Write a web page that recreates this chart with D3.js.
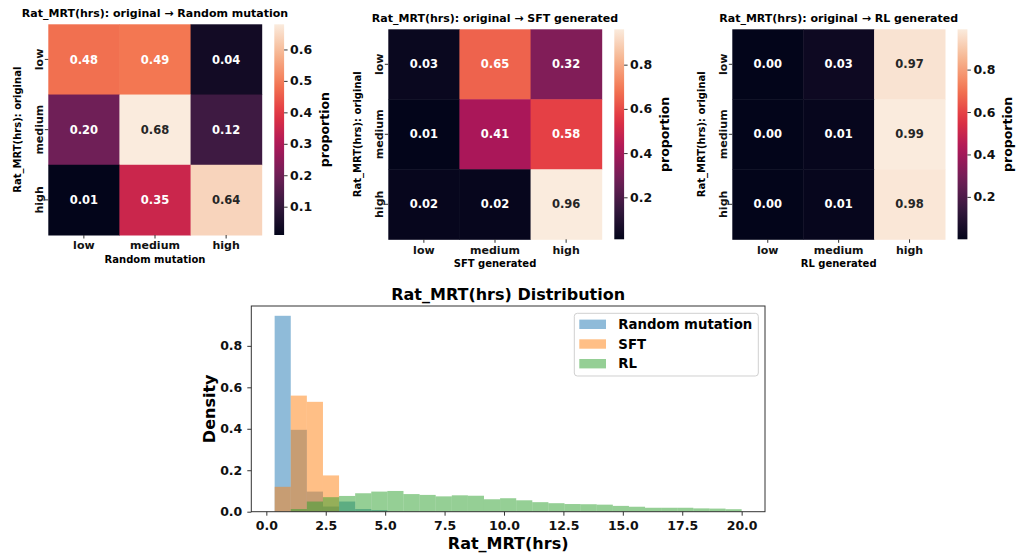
<!DOCTYPE html>
<html>
<head>
<meta charset="utf-8">
<script src="https://cdn.jsdelivr.net/npm/d3@7"></script>
<style>
  body { margin: 0; background: #fff; }
  svg { display: block; font-family: "DejaVu Sans", sans-serif; font-weight: bold; }
</style>
</head>
<body>
<svg id="chart" width="1016" height="554"></svg>
<script>
// heatmap data (rows = original, cols = generated)
const levels = ["low", "medium", "high"];
const randomMatrix = [[0.48, 0.49, 0.04], [0.20, 0.68, 0.12], [0.01, 0.35, 0.64]];
const sftMatrix = [[0.03, 0.65, 0.32], [0.01, 0.41, 0.58], [0.02, 0.02, 0.96]];
const rlMatrix = [[0.00, 0.03, 0.97], [0.00, 0.01, 0.99], [0.00, 0.01, 0.98]];
const randomCbTicks = [0.1, 0.2, 0.3, 0.4, 0.5, 0.6];
const sftCbTicks = [0.2, 0.4, 0.6, 0.8];
const rlCbTicks = [0.2, 0.4, 0.6, 0.8];

// histogram data, density per bin (29 shared bins from 0.35 to 20 hrs)
const binStart = 0.35, binEnd = 20, binCount = 29;
const randomDensity = [0.945, 0.395, 0.097, 0.025, 0.049, 0.013, 0.008, 0, 0, 0, 0, 0, 0, 0, 0, 0, 0, 0, 0, 0, 0, 0, 0, 0, 0, 0, 0, 0, 0];
const sftDensity = [0.12, 0.56, 0.53, 0.175, 0, 0, 0, 0, 0, 0, 0, 0, 0, 0, 0, 0, 0, 0, 0, 0, 0, 0, 0, 0, 0, 0, 0, 0, 0];
const rlDensity = [0, 0.013, 0.049, 0.07, 0.076, 0.089, 0.097, 0.1, 0.085, 0.081, 0.074, 0.079, 0.077, 0.06, 0.065,
  0.055, 0.046, 0.041, 0.037, 0.036, 0.034, 0.028, 0.024, 0.019, 0.019, 0.019, 0.016, 0.015, 0.012];
const xTicks = [0, 2.5, 5, 7.5, 10, 12.5, 15, 17.5, 20];
const yTicks = [0, 0.2, 0.4, 0.6, 0.8];

const svg = d3.select("#chart");

// seaborn "rocket" colormap, approximated from sampled stops
const rocketStops = [0, 1/7, 2/7, 3/7, 4/7, 5/7, 6/7, 1];
const rocketColors = ["#03051a", "#35193e", "#701f57", "#ad1759", "#e13342", "#f37651", "#f6b48f", "#faebdd"];
const rocket = d3.scaleLinear().domain(rocketStops).range(rocketColors).interpolate(d3.interpolateRgb).clamp(true);

function luminance(c) {
  const rgb = d3.rgb(c);
  const lin = v => { v = v / 255; return v <= 0.03928 ? v / 12.92 : Math.pow((v + 0.055) / 1.055, 2.4); };
  return 0.2126 * lin(rgb.r) + 0.7152 * lin(rgb.g) + 0.0722 * lin(rgb.b);
}

const heatmaps = [
  {matrix: randomMatrix, ticks: randomCbTicks, title: "Rat_MRT(hrs): original \u2192 Random mutation", xlabel: "Random mutation",
   left: 48.3, top: 24.3, w: 213.4, h: 210.7},
  {matrix: sftMatrix, ticks: sftCbTicks, title: "Rat_MRT(hrs): original \u2192 SFT generated", xlabel: "SFT generated",
   left: 388.3, top: 29.3, w: 213.4, h: 210},
  {matrix: rlMatrix, ticks: rlCbTicks, title: "Rat_MRT(hrs): original \u2192 RL generated", xlabel: "RL generated",
   left: 732.3, top: 29.3, w: 212.7, h: 210}
];

heatmaps.forEach((hm, k) => {
  const g = svg.append("g").attr("transform", `translate(${hm.left},${hm.top})`);
  const x = d3.scaleBand().domain(levels).range([0, hm.w]);
  const y = d3.scaleBand().domain(levels).range([0, hm.h]);
  const flat = hm.matrix.flat();
  const vmin = d3.min(flat), vmax = d3.max(flat);
  const norm = d3.scaleLinear().domain([vmin, vmax]).range([0, 1]);
  const color = v => rocket(norm(v));

  const cells = [];
  hm.matrix.forEach((row, i) => row.forEach((v, j) => cells.push({r: levels[i], c: levels[j], v: v})));

  g.selectAll("rect.cell").data(cells).join("rect")
    .attr("class", "cell")
    .attr("x", d => x(d.c))
    .attr("y", d => y(d.r))
    .attr("width", x.bandwidth() + 0.5)
    .attr("height", y.bandwidth() + 0.5)
    .attr("fill", d => color(d.v));

  g.selectAll("text.annot").data(cells).join("text")
    .attr("class", "annot")
    .attr("x", d => x(d.c) + x.bandwidth() / 2)
    .attr("y", d => y(d.r) + y.bandwidth() / 2)
    .attr("dy", "0.36em")
    .attr("text-anchor", "middle")
    .style("font-size", "11.5px")
    .attr("fill", d => luminance(color(d.v)) > 0.408 ? "#262626" : "#ffffff")
    .text(d => d.v.toFixed(2));

  // x axis
  const xAxis = g.append("g").attr("transform", `translate(0,${hm.h})`)
    .call(d3.axisBottom(x).tickSize(3.5).tickPadding(3));
  xAxis.select(".domain").remove();
  xAxis.selectAll("line").attr("stroke", "#333");
  xAxis.selectAll("text").style("font-size", "11px").style("font-family", "DejaVu Sans").style("font-weight", "bold").attr("fill", "#111");

  // y axis with rotated labels
  const yAxis = g.append("g").call(d3.axisLeft(y).tickSize(3.5));
  yAxis.select(".domain").remove();
  yAxis.selectAll("line").attr("stroke", "#333");
  yAxis.selectAll("text")
    .attr("x", 0).attr("dy", 0)
    .attr("transform", "translate(-5.8,0) rotate(-90)")
    .attr("text-anchor", "middle")
    .style("font-size", "11px").style("font-family", "DejaVu Sans").style("font-weight", "bold").attr("fill", "#111");

  g.append("text")
    .attr("x", hm.w / 2).attr("y", -7.5)
    .attr("text-anchor", "middle")
    .style("font-size", "11px")
    .text(hm.title);

  g.append("text")
    .attr("x", hm.w / 2).attr("y", hm.h + 28)
    .attr("text-anchor", "middle")
    .style("font-size", "10px")
    .text(hm.xlabel);

  g.append("text")
    .attr("transform", `translate(-27.3,${hm.h / 2}) rotate(-90)`)
    .attr("text-anchor", "middle")
    .style("font-size", "10px")
    .text("Rat_MRT(hrs): original");

  // colorbar
  const cbx = hm.w + 12.6, cbw = 9.8;
  const gradId = "grad" + k;
  const grad = svg.append("defs").append("linearGradient").attr("id", gradId)
    .attr("x1", 0).attr("y1", 1).attr("x2", 0).attr("y2", 0);
  d3.range(0, 1.0001, 0.05).forEach(t => {
    grad.append("stop").attr("offset", t).attr("stop-color", rocket(t));
  });
  g.append("rect").attr("x", cbx).attr("y", 0).attr("width", cbw).attr("height", hm.h)
    .attr("fill", `url(#${gradId})`);
  const cbScale = d3.scaleLinear().domain([vmin, vmax]).range([hm.h, 0]);
  const cbAxis = g.append("g").attr("transform", `translate(${cbx + cbw},0)`)
    .call(d3.axisRight(cbScale).tickValues(hm.ticks).tickSize(3.5).tickPadding(2.5).tickFormat(d3.format(".1f")));
  cbAxis.select(".domain").remove();
  cbAxis.selectAll("line").attr("stroke", "#333");
  cbAxis.selectAll("text").style("font-size", "12.5px").style("font-family", "DejaVu Sans").style("font-weight", "bold").attr("fill", "#111");
  g.append("text")
    .attr("transform", `translate(${cbx + cbw + 44.5},${hm.h / 2}) rotate(-90)`)
    .attr("text-anchor", "middle")
    .style("font-size", "12.5px")
    .text("proportion");
});

// ---------- histogram ----------
const hx0 = 251.3, hx1 = 765, hy0 = 306, hy1 = 511.7;
const edges = d3.range(binCount + 1).map(i => binStart + i * (binEnd - binStart) / binCount);
const span = binEnd - binStart;
const xScale = d3.scaleLinear().domain([binStart - 0.05 * span, binEnd + 0.05 * span]).range([hx0, hx1]);
const maxDensity = d3.max(randomDensity.concat(sftDensity, rlDensity));
const yScale = d3.scaleLinear().domain([0, maxDensity * 1.05]).range([hy1, hy0]);

const series = [
  {name: "Random mutation", values: randomDensity, color: "#1f77b4"},
  {name: "SFT", values: sftDensity, color: "#ff7f0e"},
  {name: "RL", values: rlDensity, color: "#2ca02c"}
];

const hg = svg.append("g");
series.forEach(s => {
  const bins = s.values.map((v, i) => ({x0: edges[i], x1: edges[i + 1], v: v})).filter(d => d.v > 0);
  hg.append("g").selectAll("rect").data(bins).join("rect")
    .attr("x", d => xScale(d.x0))
    .attr("width", d => xScale(d.x1) - xScale(d.x0))
    .attr("y", d => yScale(d.v))
    .attr("height", d => yScale(0) - yScale(d.v))
    .attr("fill", s.color)
    .attr("fill-opacity", 0.5);
});

hg.append("rect").attr("x", hx0).attr("y", hy0).attr("width", hx1 - hx0).attr("height", hy1 - hy0)
  .attr("fill", "none").attr("stroke", "#333").attr("stroke-width", 1);

const hxAxis = hg.append("g").attr("transform", `translate(0,${hy1})`)
  .call(d3.axisBottom(xScale).tickValues(xTicks).tickSize(4).tickPadding(5).tickFormat(d3.format(".1f")));
hxAxis.select(".domain").remove();
hxAxis.selectAll("line").attr("stroke", "#333");
hxAxis.selectAll("text").style("font-size", "12.5px").style("font-family", "DejaVu Sans").style("font-weight", "bold").attr("fill", "#111");

const hyAxis = hg.append("g").attr("transform", `translate(${hx0},0)`)
  .call(d3.axisLeft(yScale).tickValues(yTicks).tickSize(4).tickPadding(5).tickFormat(d3.format(".1f")));
hyAxis.select(".domain").remove();
hyAxis.selectAll("line").attr("stroke", "#333");
hyAxis.selectAll("text").style("font-size", "12.5px").style("font-family", "DejaVu Sans").style("font-weight", "bold").attr("fill", "#111");

hg.append("text").attr("x", (hx0 + hx1) / 2).attr("y", 299.5).attr("text-anchor", "middle")
  .style("font-size", "16px").text("Rat_MRT(hrs) Distribution");
hg.append("text").attr("x", (hx0 + hx1) / 2).attr("y", 548.5).attr("text-anchor", "middle")
  .style("font-size", "16px").text("Rat_MRT(hrs)");
hg.append("text").attr("transform", `translate(214.5,${(hy0 + hy1) / 2}) rotate(-90)`).attr("text-anchor", "middle")
  .style("font-size", "16px").text("Density");

// legend
const lg = hg.append("g").attr("transform", "translate(574.3,313.3)");
lg.append("rect").attr("width", 184).attr("height", 62.7).attr("rx", 3)
  .attr("fill", "#fff").attr("fill-opacity", 0.8).attr("stroke", "#d0d0d0");
series.forEach((s, i) => {
  const row = lg.append("g").attr("transform", `translate(0,${11 + i * 19.7})`);
  row.append("rect").attr("x", 5).attr("y", -4.7).attr("width", 26.7).attr("height", 9.4)
    .attr("fill", s.color).attr("fill-opacity", 0.5);
  row.append("text").attr("x", 44).attr("dy", "0.36em").style("font-size", "13.3px").text(s.name);
});
</script>
</body>
</html>
